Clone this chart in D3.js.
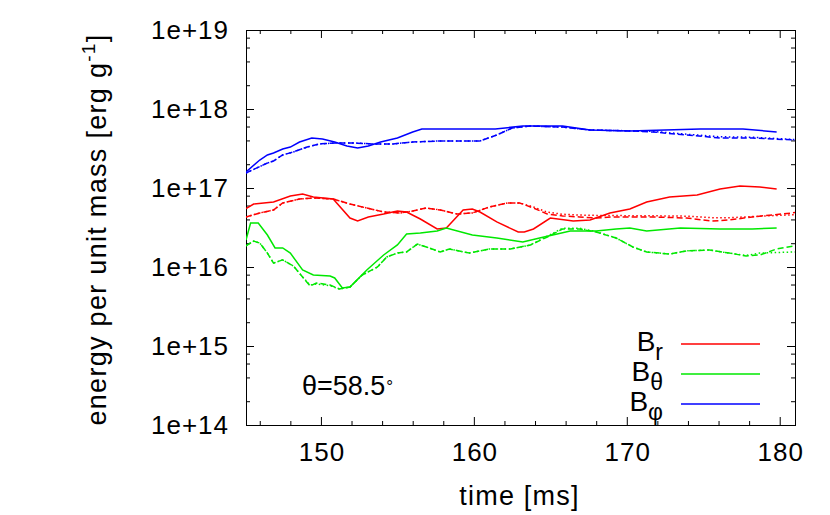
<!DOCTYPE html>
<html><head><meta charset="utf-8">
<script src="https://cdn.jsdelivr.net/npm/d3@7"></script>
<style>
html,body{margin:0;padding:0;background:#fff;}
svg{display:block;font-family:"Liberation Sans",Arial,Helvetica,sans-serif;}
</style></head>
<body>
<svg id="c" width="830" height="515"></svg>
<script>
// ---- data (time in ms, energy per unit mass in erg/g) ----
const xTicks = [150, 160, 170, 180];
const xMinorTicks = [146, 148, 152, 154, 156, 158, 162, 164, 166, 168, 172, 174, 176, 178];
const yTicks = [1e14, 1e15, 1e16, 1e17, 1e18, 1e19];
const legendLabels = ["r", "θ", "φ"];

const brSolid = [[145.1,5.5e16],[145.6,6.27e16],[146.9,6.65e16],[148.0,7.92e16],[148.8,8.4e16],[149.5,7.69e16],[150.8,7.26e16],[151.9,4.17e16],[152.4,3.82e16],[153.1,4.3e16],[154.1,4.69e16],[155.0,5.12e16],[155.6,4.97e16],[156.5,4.05e16],[157.6,3.03e16],[158.2,3.12e16],[159.3,5.27e16],[159.9,5.42e16],[160.4,4.97e16],[161.5,3.72e16],[162.9,2.77e16],[163.3,2.77e16],[163.9,3.03e16],[165.0,4.17e16],[166.5,3.82e16],[167.6,3.94e16],[168.9,4.83e16],[170.2,5.42e16],[171.3,6.65e16],[172.8,7.69e16],[174.6,8.15e16],[176.1,9.71e16],[177.4,1.06e17],[178.7,1.03e17],[179.8,9.71e16]];
const brDashed = [[145.1,4.3e16],[146.0,4.83e16],[146.9,5.27e16],[147.5,6.46e16],[148.6,7.26e16],[149.5,7.47e16],[150.8,7.26e16],[151.9,6.27e16],[153.0,5.58e16],[154.1,4.97e16],[155.2,4.83e16],[156.0,5.12e16],[156.9,5.58e16],[157.8,5.27e16],[158.9,4.69e16],[159.9,4.83e16],[161.0,5.74e16],[162.2,6.46e16],[163.0,6.46e16],[163.9,5.58e16],[164.8,4.69e16],[165.8,4.43e16],[166.9,4.3e16],[168.0,4.17e16],[169.1,4.3e16],[170.2,4.3e16],[171.7,4.3e16],[173.9,4.17e16],[175.6,3.82e16],[176.7,3.94e16],[178.2,4.3e16],[180.8,4.83e16],[181.0,4.9e16]];
const brDotted = [[145.1,4.3e16],[146.0,4.83e16],[146.9,5.27e16],[147.5,6.46e16],[148.6,7.26e16],[149.5,7.47e16],[150.8,7.26e16],[151.9,6.27e16],[153.0,5.58e16],[154.1,4.97e16],[155.2,4.83e16],[156.0,5.12e16],[156.9,5.58e16],[157.8,5.27e16],[158.9,4.69e16],[159.9,4.83e16],[161.0,5.74e16],[162.2,6.46e16],[163.0,6.46e16],[163.9,5.75e16],[164.8,4.95e16],[165.8,4.65e16],[166.9,4.55e16],[168.0,4.5e16],[169.1,4.5e16],[170.2,4.45e16],[171.7,4.45e16],[173.9,4.4e16],[175.6,4.2e16],[176.7,4.2e16],[178.2,4.35e16],[181.0,4.6e16]];

const btSolid = [[145.1,2.2e16],[145.4,3.61e16],[145.9,3.61e16],[146.5,2.54e16],[147.0,1.74e16],[147.5,1.74e16],[148.0,1.5e16],[148.8,9.16e15],[149.5,7.92e15],[150.6,7.69e15],[150.9,7.26e15],[151.4,5.42e15],[151.9,5.58e15],[153.0,9.16e15],[154.1,1.42e16],[155.0,1.9e16],[155.6,2.62e16],[156.5,2.69e16],[157.6,2.86e16],[158.2,3.12e16],[159.9,2.54e16],[161.5,2.33e16],[163.2,2.07e16],[164.3,2.33e16],[166.3,2.86e16],[168.0,2.86e16],[169.3,3.03e16],[170.2,3.12e16],[171.3,2.86e16],[173.5,3.12e16],[176.1,3.03e16],[178.2,3.03e16],[179.8,3.12e16]];
const btDashed = [[145.1,1.85e16],[145.6,2.13e16],[146.0,2.01e16],[146.5,1.5e16],[146.9,1.12e16],[147.5,1.23e16],[148.2,1.03e16],[148.8,7.47e15],[149.3,5.74e15],[149.7,6.27e15],[150.6,5.92e15],[151.2,5.27e15],[151.9,5.58e15],[152.7,7.92e15],[153.7,1.0e16],[154.3,1.34e16],[155.0,1.5e16],[155.6,1.55e16],[156.3,1.95e16],[156.9,1.79e16],[157.8,1.55e16],[158.4,1.69e16],[159.7,1.5e16],[161.0,1.69e16],[162.4,1.69e16],[163.7,1.9e16],[164.8,2.4e16],[165.8,3.03e16],[166.9,3.03e16],[168.0,2.77e16],[169.3,2.33e16],[170.4,1.79e16],[171.3,1.55e16],[172.8,1.46e16],[173.9,1.6e16],[175.4,1.64e16],[176.7,1.5e16],[177.8,1.38e16],[178.7,1.42e16],[179.8,1.69e16],[181.0,1.85e16]];
const btDotted = [[145.1,1.85e16],[145.6,2.13e16],[146.0,2.01e16],[146.5,1.5e16],[146.9,1.12e16],[147.5,1.23e16],[148.2,1.03e16],[148.8,7.47e15],[149.3,5.9e15],[149.7,6.1e15],[150.6,5.8e15],[151.2,5.27e15],[151.9,5.58e15],[152.7,7.92e15],[153.7,1.0e16],[154.3,1.34e16],[155.0,1.5e16],[155.6,1.55e16],[156.3,1.95e16],[156.9,1.79e16],[157.8,1.55e16],[158.4,1.69e16],[159.7,1.5e16],[161.0,1.69e16],[162.4,1.69e16],[163.7,1.9e16],[164.8,2.45e16],[165.8,3.1e16],[166.9,3.1e16],[168.0,2.8e16],[169.3,2.33e16],[170.4,1.79e16],[171.3,1.55e16],[172.8,1.46e16],[173.9,1.6e16],[175.4,1.64e16],[176.7,1.5e16],[177.8,1.4e16],[178.7,1.5e16],[181.0,1.55e16]];

const bpSolid = [[145.1,1.6e17],[146.0,2.26e17],[146.5,2.62e17],[146.9,2.77e17],[147.5,3.12e17],[148.0,3.3e17],[148.6,3.82e17],[149.4,4.3e17],[150.1,4.17e17],[150.9,3.82e17],[151.7,3.4e17],[152.4,3.21e17],[153.1,3.4e17],[153.9,3.82e17],[155.0,4.3e17],[156.0,5.12e17],[156.6,5.58e17],[157.8,5.58e17],[161.4,5.58e17],[163.2,6.09e17],[165.8,6.09e17],[167.6,5.42e17],[170.2,5.27e17],[174.8,5.58e17],[177.6,5.6e17],[179.8,5.12e17]];
const bpDashed = [[145.1,1.55e17],[146.5,2.07e17],[146.9,2.2e17],[147.5,2.62e17],[148.2,2.86e17],[149.1,3.3e17],[149.9,3.61e17],[151.0,3.72e17],[152.1,3.72e17],[153.4,3.61e17],[154.7,3.61e17],[156.0,3.82e17],[157.8,3.94e17],[160.4,3.94e17],[161.5,4.69e17],[162.5,5.74e17],[163.7,6.09e17],[165.8,5.9e17],[167.6,5.42e17],[170.2,5.27e17],[171.7,5.12e17],[173.9,4.69e17],[176.1,4.3e17],[178.2,4.3e17],[181.0,4.05e17]];
const bpDotted = [[145.1,1.55e17],[146.5,2.07e17],[146.9,2.2e17],[147.5,2.62e17],[148.2,2.86e17],[149.1,3.3e17],[149.9,3.61e17],[151.0,3.72e17],[152.1,3.72e17],[153.4,3.61e17],[154.7,3.61e17],[156.0,3.82e17],[157.8,3.94e17],[160.4,3.94e17],[161.5,4.69e17],[162.5,5.74e17],[163.7,6.09e17],[165.8,5.9e17],[167.6,5.42e17],[170.2,5.3e17],[171.7,5.2e17],[173.9,4.8e17],[176.1,4.45e17],[178.2,4.4e17],[181.0,4.1e17]];

// ---- layout ----
const svg = d3.select("#c");
const L = 246, R = 795, T = 30, B = 425;
const x = d3.scaleLinear().domain([145.1, 181]).range([L, R]);
const y = d3.scaleLog().domain([1e14, 1e19]).range([B, T]);
const FONT = 26;
const FAM = '"Liberation Sans",Arial,Helvetica,sans-serif';

const yMinor = [];
for (let e = 14; e < 19; e++) for (const m of [2, 4, 6, 8]) yMinor.push(m * Math.pow(10, e));

function styleAxis(g) {
  g.select(".domain").remove();
  g.selectAll(".tick line").attr("stroke", "#000").attr("stroke-width", 1);
  g.selectAll("text").attr("font-size", FONT).attr("fill", "#000")
   .attr("font-family", FAM).attr("letter-spacing", "1px");
}

// bottom
svg.append("g").attr("transform", `translate(0,${B})`)
  .call(d3.axisBottom(x).tickValues(xTicks).tickSizeInner(-8).tickSizeOuter(0).tickPadding(18).tickFormat(d3.format("d")))
  .call(styleAxis)
  .call(g => g.selectAll("text").attr("dx", "0.5px"));
svg.append("g").attr("transform", `translate(0,${B})`)
  .call(d3.axisBottom(x).tickValues(xMinorTicks).tickSizeInner(-4).tickSizeOuter(0).tickFormat(""))
  .call(styleAxis);
// top
svg.append("g").attr("transform", `translate(0,${T})`)
  .call(d3.axisTop(x).tickValues(xTicks).tickSizeInner(-8).tickSizeOuter(0).tickFormat(""))
  .call(styleAxis);
svg.append("g").attr("transform", `translate(0,${T})`)
  .call(d3.axisTop(x).tickValues(xMinorTicks).tickSizeInner(-4).tickSizeOuter(0).tickFormat(""))
  .call(styleAxis);
// left
svg.append("g").attr("transform", `translate(${L},0)`)
  .call(d3.axisLeft(y).tickValues(yTicks).tickSizeInner(-8).tickSizeOuter(0).tickPadding(17)
    .tickFormat(d => "1e+" + Math.round(Math.log10(d))))
  .call(styleAxis);
svg.append("g").attr("transform", `translate(${L},0)`)
  .call(d3.axisLeft(y).tickValues(yMinor).tickSizeInner(-4).tickSizeOuter(0).tickFormat(""))
  .call(styleAxis);
// right
svg.append("g").attr("transform", `translate(${R},0)`)
  .call(d3.axisRight(y).tickValues(yTicks).tickSizeInner(-8).tickSizeOuter(0).tickFormat(""))
  .call(styleAxis);
svg.append("g").attr("transform", `translate(${R},0)`)
  .call(d3.axisRight(y).tickValues(yMinor).tickSizeInner(-4).tickSizeOuter(0).tickFormat(""))
  .call(styleAxis);

// frame
svg.append("rect").attr("x", L + 0.5).attr("y", T + 0.5).attr("width", R - L).attr("height", B - T)
  .attr("fill", "none").attr("stroke", "#000").attr("stroke-width", 1);

// clip
svg.append("clipPath").attr("id", "clip").append("rect")
  .attr("x", L).attr("y", T).attr("width", R - L).attr("height", B - T);

const line = d3.line().x(d => x(d[0])).y(d => y(d[1])).curve(d3.curveLinear);
const RED = "#ff0000", GREEN = "#00e800", BLUE = "#0000ff";
const series = [
  {d: brSolid, c: RED, dash: null},
  {d: btSolid, c: GREEN, dash: null},
  {d: bpSolid, c: BLUE, dash: null},
  {d: brDashed, c: RED, dash: "6,3"},
  {d: btDashed, c: GREEN, dash: "6,3"},
  {d: bpDashed, c: BLUE, dash: "6,3"},
  {d: brDotted, c: RED, dash: "1.5,2.5"},
  {d: btDotted, c: GREEN, dash: "1.5,2.5"},
  {d: bpDotted, c: BLUE, dash: "1.5,2.5"}
];
const pg = svg.append("g").attr("clip-path", "url(#clip)");
pg.selectAll("path").data(series).join("path")
  .attr("d", s => line(s.d)).attr("fill", "none")
  .attr("stroke", s => s.c).attr("stroke-width", 1.5)
  .attr("stroke-dasharray", s => s.dash);

// legend
const legColors = [RED, GREEN, BLUE];
const legY = [344, 374, 404];
legendLabels.forEach((lab, i) => {
  svg.append("line").attr("x1", 681).attr("x2", 760).attr("y1", legY[i]).attr("y2", legY[i])
    .attr("stroke", legColors[i]).attr("stroke-width", 1.5);
  const t = svg.append("text").attr("x", 663).attr("y", legY[i] + 7).attr("text-anchor", "end")
    .attr("font-size", 28).attr("fill", "#000");
  t.append("tspan").text("B");
  t.append("tspan").attr("dy", 9).attr("font-size", 23).text(lab);
});

// annotation
const ann = svg.append("text").attr("x", 302).attr("y", 395).attr("font-size", 27).attr("fill", "#000");
ann.append("tspan").text("θ=58.5");
ann.append("tspan").attr("font-size", 17).attr("dy", -3).attr("dx", 1).text("°");

// axis titles
svg.append("text").attr("x", (L + R) / 2 - 1).attr("y", 505).attr("text-anchor", "middle")
  .attr("font-size", 27).attr("letter-spacing", "1.2px").attr("fill", "#000").text("time [ms]");
const yt = svg.append("text").attr("transform", `translate(106,${(T + B) / 2 + 2}) rotate(-90)`)
  .attr("text-anchor", "middle").attr("font-size", 27).attr("letter-spacing", "1.3px").attr("fill", "#000");
yt.append("tspan").text("energy per unit mass [erg g");
yt.append("tspan").attr("font-size", 19).attr("dy", -11).text("-1");
yt.append("tspan").attr("dy", 11).text("]");
</script>
</body></html>
